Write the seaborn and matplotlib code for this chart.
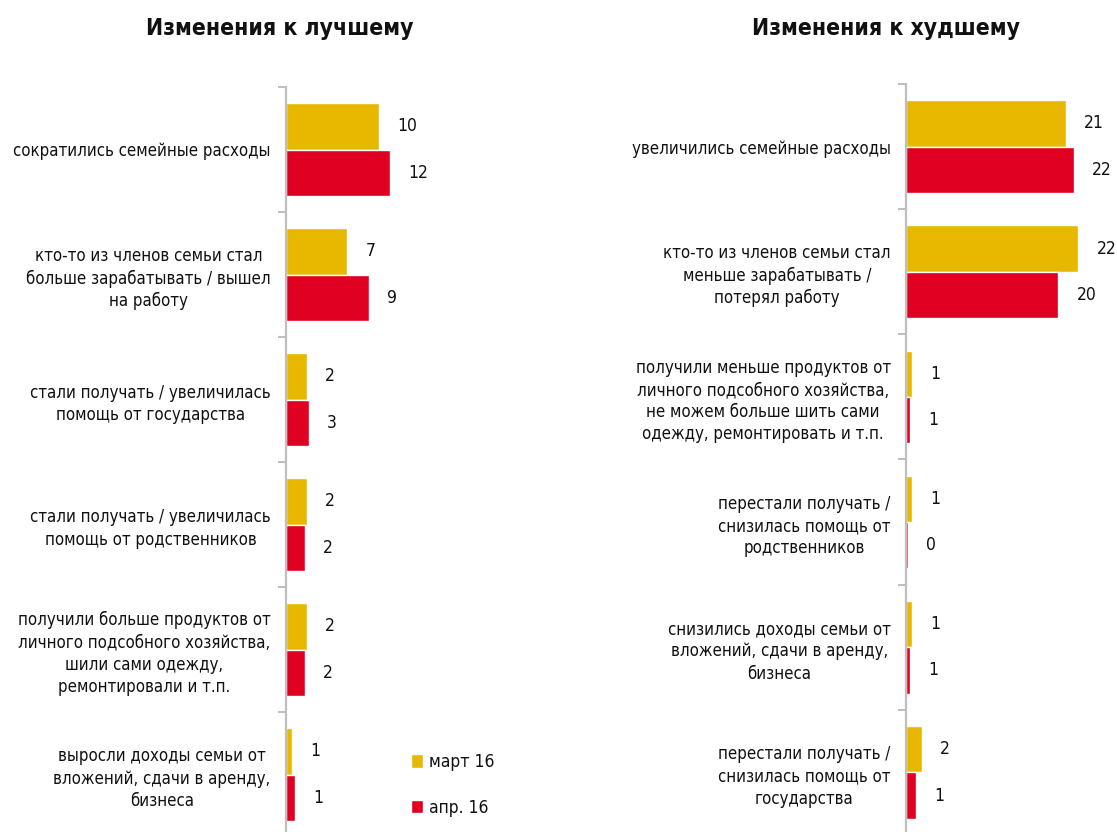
import matplotlib
matplotlib.use('Agg')
import matplotlib.pyplot as plt
import seaborn as sns
import pandas as pd

# left panel: changes for the better
better_cats = ['сократились семейные расходы',
               'кто-то из членов семьи стал\nбольше зарабатывать / вышел\nна работу',
               'стали получать / увеличилась\nпомощь от государства',
               'стали получать / увеличилась\nпомощь от родственников',
               'получили больше продуктов от\nличного подсобного хозяйства,\nшили сами одежду,\nремонтировали и т.п.',
               'выросли доходы семьи от\nвложений, сдачи в аренду,\nбизнеса']
better_mar = [10.3, 6.8, 2.3, 2.3, 2.3, 0.7]
better_apr = [11.6, 9.2, 2.5, 2.1, 2.1, 1.0]
better_mar_lbl = ['10', '7', '2', '2', '2', '1']
better_apr_lbl = ['12', '9', '3', '2', '2', '1']

# right panel: changes for the worse
worse_cats = ['увеличились семейные расходы',
              'кто-то из членов семьи стал\nменьше зарабатывать /\nпотерял работу',
              'получили меньше продуктов от\nличного подсобного хозяйства,\nне можем больше шить сами\nодежду, ремонтировать и т.п.',
              'перестали получать /\nснизилась помощь от\nродственников',
              'снизились доходы семьи от\nвложений, сдачи в аренду,\nбизнеса',
              'перестали получать /\nснизилась помощь от\nгосударства']
worse_mar = [20.8, 22.4, 0.8, 0.8, 0.8, 2.1]
worse_apr = [21.8, 19.8, 0.56, 0.3, 0.56, 1.34]
worse_mar_lbl = ['21', '22', '1', '1', '1', '2']
worse_apr_lbl = ['22', '20', '1', '0', '1', '1']

periods = ['март 16', 'апр. 16']
colors = ['#E8B800', '#E00022']
titles = ['Изменения к лучшему', 'Изменения к худшему']

sns.set_theme(style='white')
plt.rcParams['font.family'] = ['DejaVu Sans']
plt.rcParams['font.stretch'] = 'condensed'
plt.rcParams['text.color'] = '#111111'

W, H = 1117, 832
fig = plt.figure(figsize=(W / 100, H / 100), dpi=100)

def long_df(cats, mar, apr):
    return pd.DataFrame({'cat': cats * 2,
                         'value': mar + apr,
                         'period': [periods[0]] * len(cats) + [periods[1]] * len(cats)})

# axes boxes in pixels: left, top, width, height
boxes = [(286, 87, 270, 750), (906, 84, 211, 751)]
xmax = [30, 211 / 7.7]
panels = [(better_cats, better_mar, better_apr, better_mar_lbl, better_apr_lbl),
          (worse_cats, worse_mar, worse_apr, worse_mar_lbl, worse_apr_lbl)]
title_x = [280, 886]

axs = []
for i, (cats, mar, apr, lm, la) in enumerate(panels):
    l, t, w, h = boxes[i]
    ax = fig.add_axes([l / W, 1 - (t + h) / H, w / W, h / H])
    df = long_df(cats, mar, apr)
    sns.barplot(data=df, y='cat', x='value', hue='period', hue_order=periods,
                palette=colors, orient='h', width=0.74, saturation=1, ax=ax)
    for cont, lbls in zip(ax.containers, (lm, la)):
        ax.bar_label(cont, labels=lbls, padding=13, fontsize=12.5, color='#111111')
    ax.set_xlim(0, xmax[i])
    ax.set_ylim(len(cats) - 0.5, -0.5)
    ax.set(xlabel='', ylabel='')
    ax.set_xticks([])
    for s in ('top', 'right', 'bottom'):
        ax.spines[s].set_visible(False)
    ax.spines['left'].set_color('#bfbfbf')
    ax.spines['left'].set_linewidth(1.6)
    ax.set_yticks([k - 0.5 for k in range(len(cats) + 1)], minor=True)
    ax.tick_params(axis='y', which='minor', left=True, length=6, width=1.4, color='#bfbfbf')
    ax.tick_params(axis='y', which='major', left=False, length=0, pad=11, labelsize=12.1,
                   labelcolor='#111111')
    for lab in ax.get_yticklabels():
        lab.set_multialignment('center')
        lab.set_linespacing(1.3)
    fig.text(title_x[i] / W, 1 - 28 / H, titles[i], ha='center', va='center',
             fontsize=16.5, fontweight='bold')
    axs.append(ax)

handles, labels = axs[0].get_legend_handles_labels()
for ax in axs:
    if ax.get_legend():
        ax.get_legend().remove()
fig.legend(handles, labels, loc='center left', bbox_to_anchor=(411 / W, 1 - 785 / H),
           frameon=False, borderpad=0, borderaxespad=0, fontsize=12.5,
           handlelength=0.7, handleheight=0.8, handletextpad=0.35, labelspacing=1.6)

fig.savefig('out.png', dpi=100)
